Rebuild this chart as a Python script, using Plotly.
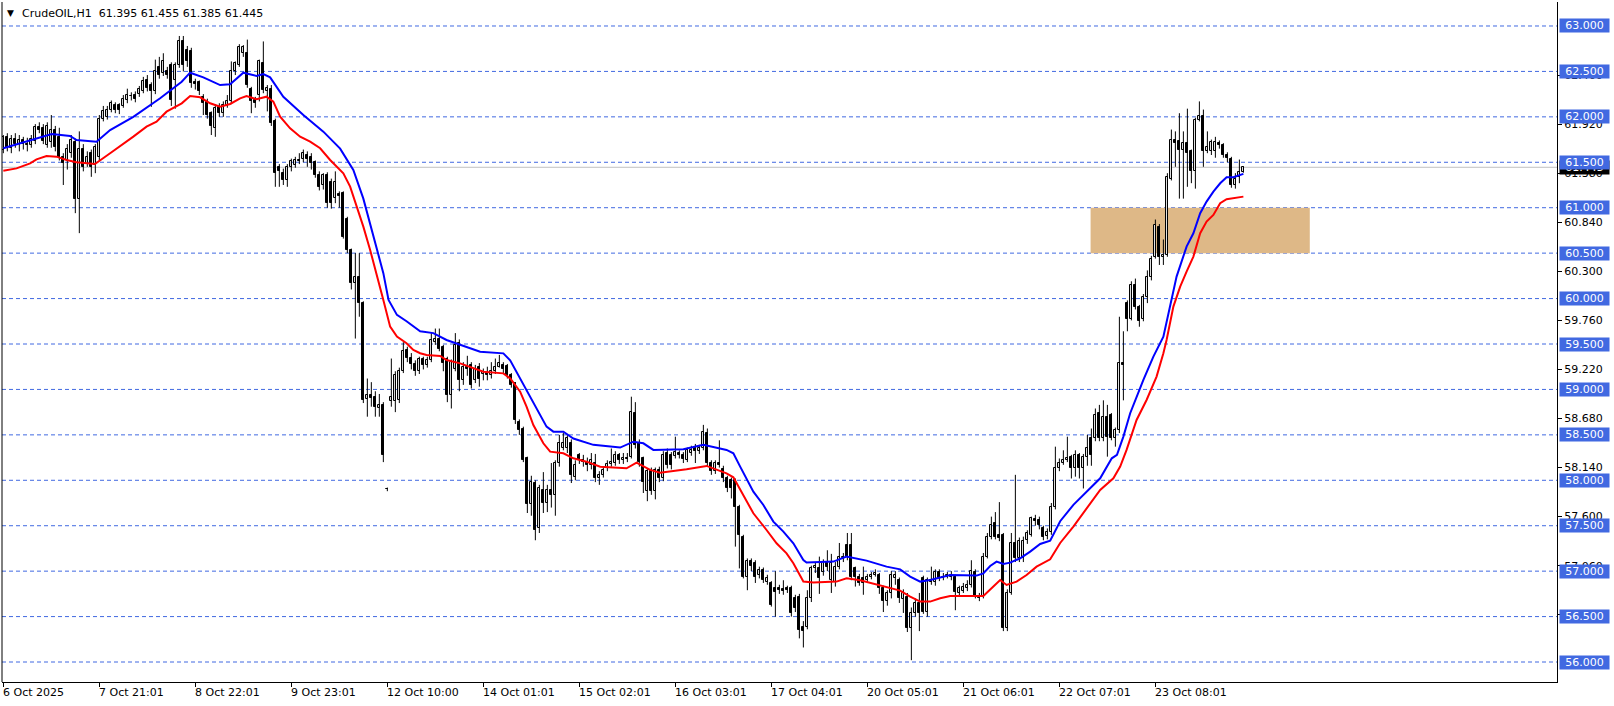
import plotly.graph_objects as go

# ---------------- data ----------------
bar_open = [
    61.63, 61.78, 61.66, 61.76, 61.70, 61.74, 61.70, 61.69, 61.73, 61.89,
    61.88, 61.69, 61.72, 61.86, 61.78, 61.56, 61.52, 61.60, 61.72, 61.10,
    61.65, 61.48, 61.60, 61.47, 61.56, 61.98, 62.00, 62.08, 62.13, 62.13,
    62.12, 62.19, 62.23, 62.24, 62.25, 62.29, 62.41, 62.35, 62.28, 62.55,
    62.48, 62.51, 62.57, 62.41, 62.57, 62.84, 62.74, 62.72, 62.38, 62.38,
    62.22, 62.16, 62.04, 61.88, 62.11, 62.04, 62.12, 62.17, 62.50, 62.57,
    62.70, 62.70, 62.31, 62.18, 62.24, 62.59, 62.29, 62.31, 61.95, 61.45,
    61.38, 61.30, 61.45, 61.47, 61.53, 61.54, 61.58, 61.56, 61.50, 61.36,
    61.25, 61.36, 61.28, 61.11, 61.15, 61.16, 60.88, 60.53, 60.17, 60.24,
    59.95, 58.89, 58.94, 58.92, 58.80, 58.83, 57.90, 58.87, 58.87, 58.88,
    59.20, 59.43, 59.35, 59.28, 59.20, 59.33, 59.27, 59.32, 59.52, 59.56,
    59.47, 59.34, 58.94, 59.23, 59.51, 59.10, 59.25, 59.27, 59.10, 59.25,
    59.17, 59.19, 59.16, 59.20, 59.25, 59.27, 59.26, 59.16, 59.07, 58.64,
    58.57, 58.24, 57.74, 57.97, 57.47, 57.89, 57.75, 57.89, 57.84, 58.19,
    58.36, 58.35, 58.41, 58.04, 58.28, 58.22, 58.20, 58.17, 58.19, 58.02,
    58.06, 58.14, 58.18, 58.19, 58.28, 58.22, 58.25, 58.26, 58.74, 58.41,
    58.24, 57.88, 58.10, 57.88, 58.11, 58.02, 58.30, 58.28, 58.27, 58.30,
    58.28, 58.22, 58.30, 58.37, 58.32, 58.35, 58.52, 58.19, 58.10, 58.19,
    58.12, 58.02, 58.00, 58.00, 57.71, 57.38, 56.94, 57.11, 57.09, 56.96,
    57.01, 56.88, 56.87, 56.82, 56.82, 56.80, 56.81, 56.81, 56.70, 56.72,
    56.39, 56.39, 56.70, 57.03, 57.04, 56.99, 57.10, 56.90, 56.88, 57.05,
    57.14, 57.29, 57.29, 57.03, 56.94, 56.92, 56.90, 56.94, 56.96, 56.96,
    56.81, 56.67, 56.76, 56.92, 56.90, 56.69, 56.72, 56.37, 56.54, 56.65,
    56.92, 56.55, 56.90, 56.88, 56.99, 56.92, 56.94, 56.94, 56.94, 56.76,
    56.78, 56.81, 56.85, 56.99, 56.72, 56.72, 57.16, 57.38, 57.53, 57.40,
    57.40, 56.37, 56.76, 57.31, 57.14, 57.14, 57.34, 57.40, 57.57, 57.56,
    57.47, 57.39, 57.43, 57.71, 58.13, 58.19, 58.22, 58.26, 58.13, 58.28,
    58.13, 58.26, 58.46, 58.46, 58.74, 58.46, 58.70, 58.72, 58.46, 58.55,
    59.29, 59.95, 59.78, 60.15, 59.91, 59.77, 60.02, 60.24, 60.46, 60.79,
    60.46, 60.48, 61.32, 61.75, 61.73, 61.64, 61.71, 61.62, 61.40, 61.97,
    62.01, 61.62, 61.62, 61.62, 61.71, 61.69, 61.58, 61.54, 61.25, 61.34, 61.395,
]
bar_high = [
    61.80, 61.82, 61.80, 61.82, 61.80, 61.78, 61.77, 61.80, 61.92, 61.94,
    61.92, 61.94, 62.02, 61.90, 61.88, 61.60, 61.70, 61.80, 61.76, 61.84,
    61.70, 61.62, 61.64, 61.70, 62.02, 62.12, 62.12, 62.18, 62.16, 62.15,
    62.24, 62.31, 62.27, 62.28, 62.34, 62.44, 62.46, 62.38, 62.63, 62.66,
    62.70, 62.55, 62.60, 62.60, 62.89, 62.89, 62.78, 62.76, 62.42, 62.40,
    62.25, 62.20, 62.06, 62.14, 62.15, 62.17, 62.24, 62.61, 62.61, 62.80,
    62.79, 62.85, 62.33, 62.22, 62.63, 62.83, 62.35, 62.35, 61.98, 61.48,
    61.43, 61.48, 61.54, 61.56, 61.60, 61.64, 61.62, 61.60, 61.52, 61.40,
    61.38, 61.39, 61.32, 61.40, 61.18, 61.18, 60.90, 60.55, 60.50, 60.50,
    59.97, 59.12, 59.08, 58.98, 58.95, 58.86, 57.92, 59.34, 59.20, 59.24,
    59.52, 59.47, 59.40, 59.32, 59.36, 59.36, 59.36, 59.63, 59.67, 59.67,
    59.49, 59.36, 59.33, 59.62, 59.55, 59.30, 59.37, 59.30, 59.27, 59.29,
    59.23, 59.25, 59.30, 59.34, 59.38, 59.30, 59.28, 59.18, 59.08, 58.67,
    58.59, 58.26, 58.05, 58.00, 57.95, 58.09, 57.95, 58.19, 58.22, 58.50,
    58.52, 58.50, 58.45, 58.22, 58.30, 58.28, 58.25, 58.30, 58.29, 58.10,
    58.15, 58.22, 58.35, 58.32, 58.30, 58.30, 58.30, 58.92, 58.86, 58.45,
    58.26, 58.13, 58.14, 58.14, 58.15, 58.32, 58.35, 58.31, 58.48, 58.33,
    58.31, 58.36, 58.38, 58.40, 58.39, 58.61, 58.57, 58.22, 58.22, 58.44,
    58.16, 58.05, 58.03, 58.02, 57.73, 57.40, 57.14, 57.14, 57.12, 57.05,
    57.04, 56.96, 56.89, 57.00, 56.85, 56.90, 56.84, 56.84, 56.74, 56.75,
    56.45, 56.79, 57.06, 57.10, 57.16, 57.13, 57.23, 57.19, 57.10, 57.31,
    57.20, 57.42, 57.42, 57.05, 56.97, 57.05, 56.97, 56.99, 57.02, 56.98,
    56.84, 56.79, 57.00, 57.00, 56.93, 56.80, 56.76, 56.60, 56.70, 56.76,
    56.95, 56.93, 57.05, 57.02, 57.02, 56.98, 56.99, 57.00, 56.96, 56.84,
    56.87, 56.90, 57.12, 57.02, 56.76, 57.20, 57.42, 57.60, 57.65, 57.76,
    57.42, 56.80, 57.42, 58.06, 57.37, 57.38, 57.45, 57.60, 57.62, 57.60,
    57.50, 57.47, 57.75, 58.37, 58.24, 58.33, 58.48, 58.28, 58.33, 58.30,
    58.29, 58.50, 58.57, 58.79, 58.83, 58.88, 58.83, 58.74, 58.58, 59.80,
    59.64, 59.98, 60.19, 60.22, 59.93, 60.05, 60.31, 60.47, 60.87, 60.82,
    60.65, 61.38, 61.86, 61.84, 62.04, 61.84, 62.09, 61.64, 61.99, 62.17,
    62.08, 61.84, 61.75, 61.78, 61.74, 61.71, 61.61, 61.56, 61.38, 61.53, 61.455,
]
bar_low = [
    61.60, 61.62, 61.60, 61.66, 61.62, 61.64, 61.62, 61.66, 61.70, 61.82,
    61.70, 61.66, 61.66, 61.62, 61.52, 61.25, 61.42, 61.55, 60.94, 60.72,
    61.40, 61.45, 61.34, 61.38, 61.52, 61.95, 61.97, 62.05, 62.04, 62.03,
    62.10, 62.15, 62.18, 62.16, 62.22, 62.26, 62.28, 62.11, 62.25, 62.42,
    62.45, 62.42, 62.12, 62.09, 62.54, 62.50, 62.55, 62.32, 62.30, 62.24,
    62.02, 61.98, 61.80, 61.78, 62.00, 62.00, 62.10, 62.14, 62.46, 62.55,
    62.66, 62.32, 62.04, 62.10, 62.17, 62.26, 62.06, 61.90, 61.23, 61.23,
    61.25, 61.23, 61.40, 61.44, 61.48, 61.50, 61.45, 61.42, 61.33, 61.19,
    61.20, 61.00, 60.99, 61.05, 61.00, 60.66, 60.50, 60.10, 59.56, 59.80,
    58.85, 58.70, 58.81, 58.70, 58.70, 58.20, 57.88, 58.81, 58.75, 58.85,
    59.18, 59.30, 59.22, 59.15, 59.17, 59.22, 59.24, 59.30, 59.49, 59.42,
    59.20, 58.86, 58.79, 59.20, 58.98, 59.05, 59.15, 59.01, 59.07, 59.03,
    59.10, 59.10, 59.12, 59.17, 59.24, 59.18, 59.12, 59.02, 58.62, 58.50,
    58.20, 57.64, 57.61, 57.34, 57.42, 57.64, 57.65, 57.70, 57.61, 58.15,
    58.33, 58.30, 57.97, 58.00, 58.18, 58.15, 58.10, 58.12, 57.98, 57.95,
    58.03, 58.10, 58.15, 58.16, 58.18, 58.18, 58.20, 58.24, 58.35, 58.15,
    57.86, 57.77, 57.84, 57.79, 57.98, 57.99, 58.13, 58.12, 58.24, 58.24,
    58.19, 58.20, 58.27, 58.19, 58.29, 58.33, 58.15, 58.06, 58.07, 58.14,
    57.98, 57.87, 57.80, 57.27, 57.03, 56.92, 56.79, 57.00, 56.87, 56.92,
    56.87, 56.85, 56.61, 56.50, 56.75, 56.74, 56.76, 56.50, 56.55, 56.26,
    56.16, 56.36, 56.66, 56.98, 56.75, 56.95, 57.00, 56.76, 56.83, 57.02,
    57.10, 57.12, 56.90, 56.83, 56.84, 56.74, 56.88, 56.91, 56.94, 56.75,
    56.55, 56.62, 56.70, 56.85, 56.65, 56.54, 56.33, 56.02, 56.50, 56.34,
    56.53, 56.50, 56.85, 56.84, 56.89, 56.90, 56.92, 56.90, 56.57, 56.73,
    56.76, 56.78, 56.82, 56.70, 56.67, 56.70, 57.14, 57.35, 57.35, 57.33,
    56.34, 56.34, 56.74, 57.10, 57.10, 57.10, 57.30, 57.38, 57.50, 57.46,
    57.34, 57.35, 57.40, 57.68, 58.10, 58.17, 58.20, 58.02, 58.04, 58.02,
    57.91, 58.16, 58.16, 58.43, 58.43, 58.43, 58.26, 58.44, 58.37, 58.52,
    58.88, 59.64, 59.76, 59.88, 59.69, 59.75, 59.95, 60.20, 60.44, 60.37,
    60.37, 60.46, 61.30, 61.45, 61.10, 61.10, 61.23, 61.27, 61.21, 61.95,
    61.45, 61.60, 61.58, 61.55, 61.65, 61.55, 61.50, 61.22, 61.21, 61.27, 61.385,
]
bar_close = [
    61.78, 61.66, 61.76, 61.70, 61.74, 61.70, 61.69, 61.76, 61.89, 61.85,
    61.73, 61.90, 61.86, 61.67, 61.56, 61.49, 61.65, 61.75, 61.10, 61.65,
    61.45, 61.56, 61.45, 61.67, 61.98, 62.06, 62.08, 62.15, 62.08, 62.07,
    62.20, 62.24, 62.23, 62.20, 62.31, 62.39, 62.32, 62.28, 62.50, 62.46,
    62.61, 62.46, 62.18, 62.57, 62.83, 62.57, 62.61, 62.37, 62.36, 62.28,
    62.15, 62.02, 61.90, 62.10, 62.04, 62.13, 62.17, 62.50, 62.59, 62.77,
    62.77, 62.35, 62.17, 62.15, 62.61, 62.30, 62.32, 61.93, 61.38, 61.40,
    61.30, 61.45, 61.51, 61.52, 61.51, 61.60, 61.54, 61.49, 61.36, 61.23,
    61.36, 61.05, 61.05, 61.28, 61.13, 60.68, 60.53, 60.17, 60.24, 59.95,
    58.88, 58.94, 58.91, 58.81, 58.83, 58.28, 57.90, 58.92, 59.16, 59.20,
    59.42, 59.35, 59.28, 59.20, 59.33, 59.27, 59.32, 59.54, 59.56, 59.45,
    59.29, 58.94, 59.30, 59.49, 59.10, 59.25, 59.22, 59.05, 59.22, 59.12,
    59.19, 59.16, 59.20, 59.25, 59.29, 59.22, 59.16, 59.05, 58.66, 58.55,
    58.22, 57.74, 57.98, 57.45, 57.91, 57.75, 57.89, 57.84, 58.19, 58.41,
    58.41, 58.46, 58.06, 58.17, 58.22, 58.20, 58.17, 58.22, 58.02, 58.06,
    58.11, 58.18, 58.20, 58.28, 58.22, 58.25, 58.23, 58.75, 58.39, 58.20,
    57.98, 58.10, 57.88, 58.11, 58.02, 58.28, 58.17, 58.17, 58.31, 58.28,
    58.23, 58.33, 58.33, 58.32, 58.35, 58.53, 58.19, 58.10, 58.19, 58.17,
    58.02, 57.91, 57.91, 57.71, 57.40, 56.94, 57.11, 57.06, 56.94, 57.01,
    56.90, 56.92, 56.63, 56.77, 56.79, 56.78, 56.79, 56.54, 56.59, 56.35,
    56.34, 56.70, 57.03, 57.06, 56.92, 57.10, 57.05, 57.09, 57.05, 57.16,
    57.16, 57.16, 56.94, 56.94, 56.87, 56.87, 56.94, 56.96, 56.98, 56.81,
    56.67, 56.76, 56.96, 56.96, 56.70, 56.76, 56.37, 56.54, 56.65, 56.54,
    56.55, 56.90, 56.88, 56.99, 56.92, 56.94, 56.96, 56.96, 56.77, 56.81,
    56.83, 56.85, 57.00, 56.72, 56.70, 57.16, 57.38, 57.51, 57.38, 57.36,
    56.37, 56.76, 57.31, 57.14, 57.33, 57.33, 57.42, 57.58, 57.55, 57.51,
    57.38, 57.43, 57.71, 58.13, 58.19, 58.22, 58.24, 58.13, 58.28, 58.13,
    58.26, 58.35, 58.28, 58.72, 58.46, 58.70, 58.48, 58.46, 58.55, 59.29,
    59.27, 59.77, 60.15, 59.91, 59.75, 60.02, 60.24, 60.44, 60.81, 60.46,
    60.48, 61.34, 61.75, 61.71, 61.64, 61.71, 61.60, 61.40, 61.97, 62.01,
    61.62, 61.67, 61.72, 61.72, 61.69, 61.58, 61.55, 61.25, 61.32, 61.39, 61.445,
]

# moving averages (bar position, price)
blue_ma_x = [0, 10, 12.1, 16.7, 18.3, 23.3, 26.7, 32.5, 39.2, 44.6, 46.7, 50, 54.2, 56.7, 60,
             63.3, 65, 66.7, 70, 75, 80, 84.2, 87.5, 90, 91.7, 93.3, 95, 96.3, 98.4, 100.8,
             104.2, 107.5, 110.8, 119.2, 125, 126.7, 130.8, 135.8, 137.5, 140, 142.5, 147.5,
             154.2, 157.5, 160, 162.5, 170, 175, 180.8, 182.5, 184.2, 187.5, 190, 192.5, 195,
             197.5, 200, 200.8, 207.5, 210.8, 215.8, 220.8, 224.2, 226.7, 229.2, 231.7, 236.7,
             243.3, 245, 246.7, 248.3, 250, 251.7, 254.2, 256.7, 259.2, 261.7, 264.2, 267.5,
             270.8, 274.2, 277.1, 278.4, 280, 281.7, 285, 287.5, 290, 291.7, 293.3, 295.8,
             297.5, 299.2, 300.8, 302.5, 304.2, 305.8, 307.5, 310]
blue_ma_y = [61.654, 61.782, 61.81, 61.79, 61.745, 61.727, 61.855, 62.00, 62.204, 62.387, 62.486,
             62.435, 62.35, 62.358, 62.486, 62.45, 62.47, 62.435, 62.22, 62.02, 61.837, 61.65,
             61.415, 61.10, 60.83, 60.57, 60.28, 59.985, 59.82, 59.75, 59.64, 59.62, 59.544,
             59.415, 59.397, 59.32, 58.994, 58.59, 58.535, 58.535, 58.46, 58.39, 58.36, 58.425,
             58.407, 58.334, 58.341, 58.39, 58.334, 58.297, 58.15, 57.875, 57.728, 57.545,
             57.435, 57.307, 57.123, 57.094, 57.105, 57.16, 57.116, 57.05, 57.02, 56.94, 56.885,
             56.903, 56.958, 56.951, 56.976, 57.057, 57.105, 57.079, 57.094, 57.142, 57.215,
             57.299, 57.336, 57.55, 57.729, 57.876, 58.022, 58.242, 58.279, 58.481, 58.738,
             59.105, 59.361, 59.581, 59.912, 60.242, 60.572, 60.719, 60.939, 61.067, 61.177,
             61.269, 61.335, 61.335, 61.372]
red_ma_x = [0, 3.3, 6.7, 8.3, 10.8, 13.3, 15.8, 18.3, 22.9, 24.2, 26.7, 32.5, 35.8, 38.3, 40.8,
            44.6, 46.7, 49.2, 51.7, 54.2, 56.7, 59.2, 60.8, 63.3, 65.8, 67.5, 69.2, 71.7, 74.2,
            76.7, 79.2, 81.7, 85, 86.7, 88.3, 90, 91.7, 93.3, 95, 96.7, 98.4, 100.8, 102.5,
            104.2, 105.8, 109.2, 110.8, 114.2, 117.5, 120, 125, 126.7, 129.2, 130.8, 132.5, 135,
            136.7, 140, 142.5, 145.8, 149.2, 155.8, 158.3, 161.7, 164.2, 170.8, 175.8, 180.8,
            182.5, 184.2, 187.5, 190.8, 193.3, 195.8, 197.5, 200, 202.5, 208.3, 210.8, 214.2,
            220.8, 224.2, 226.7, 229.2, 231.7, 234.2, 236.7, 245, 247.5, 249.2, 250.8, 253.3,
            255.8, 258.3, 261.7, 264.2, 267.5, 271.7, 274.2, 277.5, 279.2, 280.8, 283.3, 285.8,
            288.3, 290, 290.8, 292.5, 294.2, 295.8, 297.5, 299.2, 300.8, 302.5, 304.2, 305.8,
            307.5, 310]
red_ma_y = [61.408, 61.433, 61.488, 61.532, 61.569, 61.562, 61.525, 61.50, 61.481, 61.525,
            61.599, 61.782, 61.892, 61.947, 62.057, 62.149, 62.229, 62.215, 62.149, 62.112,
            62.142, 62.204, 62.229, 62.193, 62.222, 62.167, 62.002, 61.874, 61.782, 61.727,
            61.654, 61.525, 61.379, 61.232, 61.03, 60.792, 60.535, 60.278, 59.985, 59.691,
            59.581, 59.508, 59.434, 59.398, 59.379, 59.368, 59.324, 59.287, 59.232, 59.195,
            59.177, 59.122, 58.975, 58.81, 58.608, 58.407, 58.315, 58.297, 58.242, 58.205,
            58.15, 58.132, 58.194, 58.114, 58.084, 58.121, 58.158, 58.077, 58.033, 57.893,
            57.637, 57.453, 57.307, 57.196, 57.087, 56.885, 56.874, 56.885, 56.921, 56.90,
            56.83, 56.786, 56.72, 56.665, 56.665, 56.701, 56.727, 56.727, 56.83, 56.903,
            56.848, 56.885, 56.958, 57.05, 57.13, 57.31, 57.491, 57.747, 57.894, 58.022,
            58.151, 58.334, 58.664, 58.884, 59.141, 59.398, 59.545, 59.912, 60.132, 60.297,
            60.462, 60.719, 60.847, 60.920, 61.049, 61.093, 61.104, 61.122]

level_lines = [56.0, 56.5, 57.0, 57.5, 58.0, 58.5, 59.0, 59.5, 60.0, 60.5, 61.0, 61.5, 62.0, 62.5, 63.0]
axis_ticks = [56.52, 57.06, 57.60, 58.14, 58.68, 59.22, 59.76, 60.30, 60.84, 61.38, 61.92, 62.46]
zone_low, zone_high = 60.5, 61.0
zone_start, zone_end = 271.8, 326.6
last_price = 61.445

time_tick_bars = [0, 24, 48, 72, 96, 120, 144, 168, 192, 216, 240, 264, 288]
time_tick_text = ["6 Oct 2025", "7 Oct 21:01", "8 Oct 22:01", "9 Oct 23:01", "12 Oct 10:00",
                  "14 Oct 01:01", "15 Oct 02:01", "16 Oct 03:01", "17 Oct 04:01", "20 Oct 05:01",
                  "21 Oct 06:01", "22 Oct 07:01", "23 Oct 08:01"]
title_text = "CrudeOIL,H1  61.395 61.455 61.385 61.445"

# ---------------- figure ----------------
FONT = "DejaVu Sans"
LINE_BLUE = "#4169E1"
n = len(bar_close)
idx = list(range(n))

wick_x, wick_y = [], []
for i in range(n):
    wick_x += [i, i, None]
    wick_y += [bar_low[i], bar_high[i], None]

body_base = [min(o, c) for o, c in zip(bar_open, bar_close)]
body_len = [max(abs(c - o), 0.004) for o, c in zip(bar_open, bar_close)]
body_col = ["#FFFFFF" if c >= o else "#000000" for o, c in zip(bar_open, bar_close)]

fig = go.Figure()
fig.add_trace(go.Scatter(x=wick_x, y=wick_y, mode="lines", line=dict(color="black", width=1),
                         hoverinfo="skip"))
fig.add_trace(go.Bar(x=idx, y=body_len, base=body_base, width=0.55,
                     marker=dict(color=body_col, line=dict(color="black", width=1))))
fig.add_trace(go.Scatter(x=blue_ma_x, y=blue_ma_y, mode="lines", line=dict(color="#0000FF", width=2)))
fig.add_trace(go.Scatter(x=red_ma_x, y=red_ma_y, mode="lines", line=dict(color="#FF0000", width=2)))

shapes = [dict(type="rect", xref="x", yref="y", x0=zone_start, x1=zone_end, y0=zone_low, y1=zone_high,
               fillcolor="#DEB887", line=dict(width=0), layer="below")]
for lv in level_lines:
    shapes.append(dict(type="line", xref="paper", yref="y", x0=0, x1=1, y0=lv, y1=lv,
                       line=dict(color=LINE_BLUE, width=1, dash="4px,3px"), layer="below"))
shapes.append(dict(type="line", xref="paper", yref="y", x0=0, x1=1, y0=last_price, y1=last_price,
                   line=dict(color="#C0C0C0", width=1), layer="below"))
shapes.append(dict(type="line", xref="paper", yref="paper", x0=0, x1=0, y0=0, y1=1,
                   line=dict(color="black", width=1)))

annotations = []
for b, t in zip(time_tick_bars, time_tick_text):
    annotations.append(dict(x=b, y=0, xref="x", yref="paper", text=t, showarrow=False,
                            xanchor="left", yanchor="top", xshift=-2, yshift=-2,
                            font=dict(family=FONT, size=11, color="black")))
annotations.append(dict(x=0, y=1, xref="paper", yref="paper", text="▼", showarrow=False,
                        xanchor="left", yanchor="middle", xshift=3, yshift=-11,
                        font=dict(family=FONT, size=9, color="black")))
annotations.append(dict(x=0, y=1, xref="paper", yref="paper", text=title_text, showarrow=False,
                        xanchor="left", yanchor="middle", xshift=18, yshift=-11,
                        font=dict(family=FONT, size=11, color="black")))
annotations.append(dict(x=1, y=last_price, xref="paper", yref="y", text=f"{last_price:.3f}",
                        showarrow=False, xanchor="left", yanchor="middle", xshift=2,
                        bgcolor="black", width=47, height=11, borderpad=1,
                        font=dict(family=FONT, size=11, color="white")))
for lv in level_lines:
    annotations.append(dict(x=1, y=lv, xref="paper", yref="y", text=f"{lv:.3f}",
                            showarrow=False, xanchor="left", yanchor="middle", xshift=2,
                            bgcolor=LINE_BLUE, width=47, height=11, borderpad=1,
                            font=dict(family=FONT, size=11, color="white")))

fig.update_layout(
    width=1614, height=706,
    margin=dict(l=2, r=57, t=2, b=24),
    paper_bgcolor="white", plot_bgcolor="white",
    showlegend=False, bargap=0,
    shapes=shapes, annotations=annotations,
    xaxis=dict(range=[-0.33, 388.4], tickvals=time_tick_bars, showticklabels=False,
               ticks="outside", ticklen=4, tickcolor="black", showgrid=False, zeroline=False,
               showline=True, linecolor="black", linewidth=1, fixedrange=True),
    yaxis=dict(range=[55.78, 63.264], side="right", tickvals=axis_ticks,
               ticktext=[f"{v:.3f}" for v in axis_ticks], ticks="outside", ticklen=4,
               tickcolor="black", showgrid=False, zeroline=False, showline=True,
               linecolor="black", linewidth=1,
               tickfont=dict(family=FONT, size=11, color="black"), fixedrange=True),
)

fig.write_html("out.html", config={"displayModeBar": False},
               post_script="document.body.style.margin='0';")
